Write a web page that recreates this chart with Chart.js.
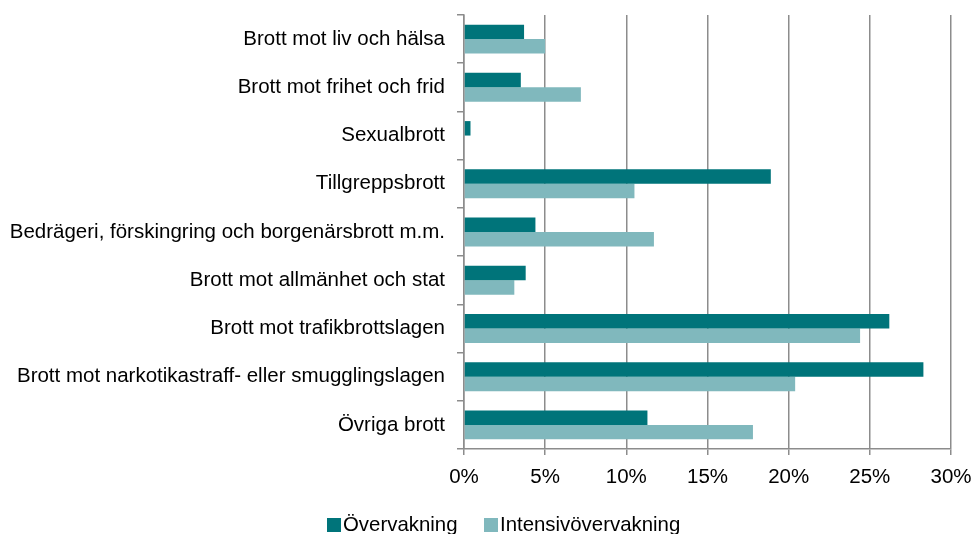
<!DOCTYPE html>
<html>
<head>
<meta charset="utf-8">
<script src="https://cdn.jsdelivr.net/npm/chart.js@4/dist/chart.umd.min.js"></script>
<style>
html,body{margin:0;padding:0;background:#fff;overflow:hidden;}
#wrap{width:976px;height:534px;position:relative;overflow:hidden;}
#legend{position:absolute;left:0;top:0;width:976px;height:534px;pointer-events:none;
  font-family:'Liberation Sans', Arial, Helvetica, sans-serif;font-size:20.4px;line-height:20.4px;color:#000;}
#legend .box{position:absolute;width:14px;height:14px;}
#legend .txt{position:absolute;white-space:nowrap;}
</style>
</head>
<body>
<div id="wrap"><canvas id="c" width="976" height="534"></canvas><div id="legend"></div></div>
<script>
const categories = [
  "Brott mot liv och hälsa",
  "Brott mot frihet och frid",
  "Sexualbrott",
  "Tillgreppsbrott",
  "Bedrägeri, förskingring och borgenärsbrott m.m.",
  "Brott mot allmänhet och stat",
  "Brott mot trafikbrottslagen",
  "Brott mot narkotikastraff- eller smugglingslagen",
  "Övriga brott"
];
const seriesNames = ["Övervakning", "Intensivövervakning"];
const overvakning = [3.7, 3.5, 0.4, 18.9, 4.4, 3.8, 26.2, 28.3, 11.3];
const intensiv = [5.0, 7.2, 0.0, 10.5, 11.7, 3.1, 24.4, 20.4, 17.8];
const xTicks = [0, 5, 10, 15, 20, 25, 30];
const seriesColors = ['#00747A', '#80B8BD'];

const FONT = "'Liberation Sans', Arial, Helvetica, sans-serif";
const FS = 20.5;
const GRID = "#8c8c8c";

const chart = new Chart(document.getElementById('c'), {
  type: 'bar',
  data: {
    labels: categories,
    datasets: [
      { label: seriesNames[0], data: overvakning, backgroundColor: seriesColors[0], borderWidth: 0,
        categoryPercentage: 0.6, barPercentage: 1.0 },
      { label: seriesNames[1], data: intensiv, backgroundColor: seriesColors[1], borderWidth: 0,
        categoryPercentage: 0.6, barPercentage: 1.0 }
    ]
  },
  options: {
    indexAxis: 'y',
    responsive: false,
    animation: false,
    layout: { padding: { top: 15, right: 25, bottom: 0, left: 0 } },
    plugins: {
      tooltip: { enabled: false },
      legend: { display: false }
    },
    scales: {
      x: {
        min: 0, max: 30,
        afterBuildTicks: (s) => { s.ticks = xTicks.map(v => ({ value: v })); },
        afterFit: (s) => { s.height = 85; s.paddingLeft = 0; s.paddingRight = 0; },
        ticks: {
          color: '#000',
          font: { family: FONT, size: FS },
          padding: 10,
          callback: (v) => v + '%'
        },
        grid: { color: GRID, lineWidth: 1.5, tickLength: 6, drawTicks: true },
        border: { display: true, color: GRID, width: 1.5 }
      },
      y: {
        afterFit: (s) => { s.width = 464; s.paddingTop = 0; s.paddingBottom = 0; },
        ticks: {
          color: '#000',
          font: { family: FONT, size: FS },
          padding: 12
        },
        grid: { drawOnChartArea: false, drawTicks: true, tickLength: 7, color: GRID, lineWidth: 1.5, offset: true },
        border: { display: true, color: GRID, width: 1.5 }
      }
    }
  }
});

// HTML legend built from the chart's datasets
const legendPos = [{ box: 327, text: 343 }, { box: 484, text: 500 }];
const lg = document.getElementById('legend');
chart.data.datasets.forEach((ds, i) => {
  const b = document.createElement('div');
  b.className = 'box';
  b.style.left = legendPos[i].box + 'px';
  b.style.top = '518px';
  b.style.background = ds.backgroundColor;
  lg.appendChild(b);
  const t = document.createElement('div');
  t.className = 'txt';
  t.style.left = legendPos[i].text + 'px';
  t.style.top = '514px';
  t.textContent = ds.label;
  lg.appendChild(t);
});
</script>
</body>
</html>
